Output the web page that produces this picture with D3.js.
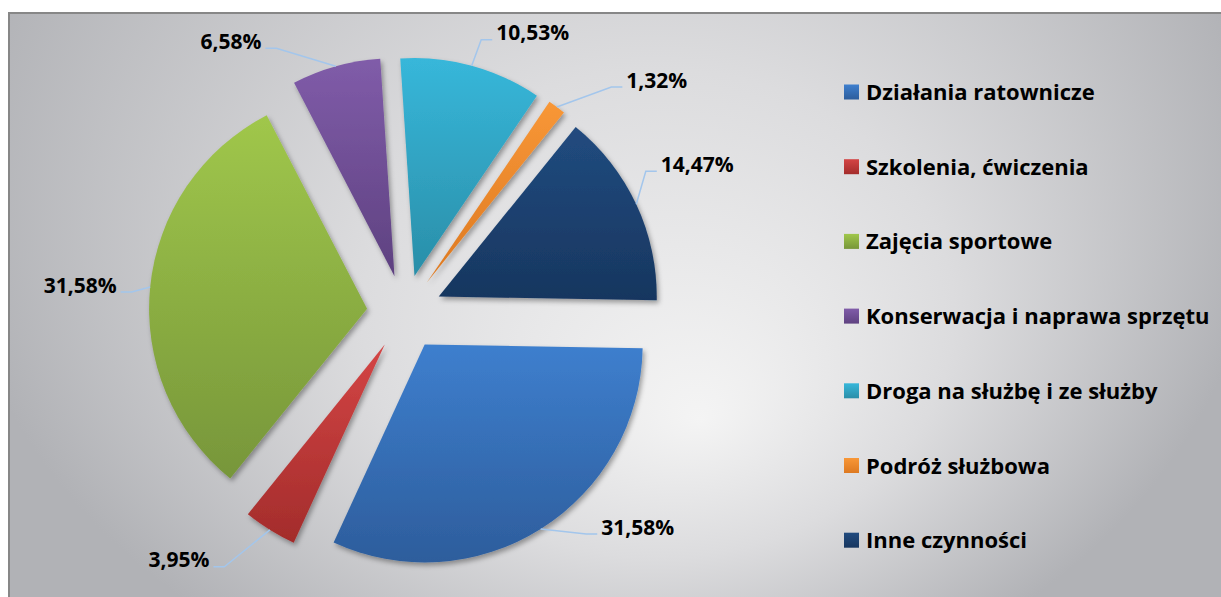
<!DOCTYPE html>
<html>
<head>
<meta charset="utf-8">
<script src="https://cdn.jsdelivr.net/npm/d3@7"></script>
<style>
  html, body { margin: 0; padding: 0; background: #ffffff; }
  svg { display: block; }
  text { font-family: "Open Sans", "Lato", sans-serif; font-weight: 700; fill: #000; }
</style>
</head>
<body>
<svg id="chart" width="1221" height="597"></svg>
<script>
// Wypadki wg rodzaju czynności (udział procentowy)
const categories = [
  "Działania ratownicze",
  "Szkolenia, ćwiczenia",
  "Zajęcia sportowe",
  "Konserwacja i naprawa sprzętu",
  "Droga na służbę i ze służby",
  "Podróż służbowa",
  "Inne czynności"
];
const shares = [31.58, 3.95, 31.58, 6.58, 10.53, 1.32, 14.47];
const shareLabels = shares.map(v => v.toFixed(2).replace(".", ",") + "%");

// slice gradient colours (top -> bottom)
const colorsTop    = ["#3e7fce", "#d44545", "#a0c74b", "#805ca9", "#37b7da", "#f89737", "#214b7f"];
const colorsBottom = ["#2d5d9c", "#a32c2b", "#77963a", "#5e4180", "#2a8ea8", "#dd7921", "#17365f"];

// label placement relative to the outer-arc point of each slice
const labelNudge = [[97, -2], [-91, 30], [-70, -2], [-105, -25], [61, -33], [100, -27], [61, -40]];

const W = 1221, H = 597;
const svg = d3.select("#chart");
const defs = svg.append("defs");

// chart area background: off-centre radial gradient
const bg = defs.append("radialGradient")
  .attr("id", "bg")
  .attr("gradientUnits", "userSpaceOnUse")
  .attr("cx", 607).attr("cy", 184).attr("r", 657)
  .attr("fx", 700).attr("fy", 469)
  .attr("gradientTransform", "translate(607,184) scale(1,0.8265) translate(-607,-184)");
bg.append("stop").attr("offset", 0).attr("stop-color", "#f4f4f4");
bg.append("stop").attr("offset", 0.45).attr("stop-color", "#dcdcde");
bg.append("stop").attr("offset", 1).attr("stop-color", "#b1b2b6");

// soft outer shadow for the slices
const sh = defs.append("filter").attr("id", "shadow")
  .attr("x", "-20%").attr("y", "-20%").attr("width", "140%").attr("height", "140%");
sh.append("feDropShadow")
  .attr("dx", 2).attr("dy", 3).attr("stdDeviation", 2.5)
  .attr("flood-color", "#000").attr("flood-opacity", 0.35);

categories.forEach((c, i) => {
  const g = defs.append("linearGradient").attr("id", "sl" + i)
    .attr("x1", 0).attr("y1", 0).attr("x2", 0).attr("y2", 1);
  g.append("stop").attr("offset", 0).attr("stop-color", colorsTop[i]);
  g.append("stop").attr("offset", 1).attr("stop-color", colorsBottom[i]);
});

svg.append("rect")
  .attr("x", 9).attr("y", 13).attr("width", W + 40).attr("height", H + 40)
  .attr("fill", "url(#bg)")
  .attr("stroke", "#878787").attr("stroke-width", 2);

// pie geometry
const cx = 404.6, cy = 312.5, R = 218, explode = 37.7;
const start = 91 * Math.PI / 180;
const pie = d3.pie().sort(null).value(d => d).startAngle(start).endAngle(start + 2 * Math.PI);
const arc = d3.arc().innerRadius(0).outerRadius(R);
const arcs = pie(shares);

const dirOf = a => [Math.sin(a), -Math.cos(a)];

const pieG = svg.append("g").attr("transform", `translate(${cx},${cy})`);

pieG.selectAll("path.slice")
  .data(arcs)
  .join("path")
  .attr("class", "slice")
  .attr("transform", d => {
    const m = (d.startAngle + d.endAngle) / 2;
    const [ux, uy] = dirOf(m);
    return `translate(${ux * explode},${uy * explode})`;
  })
  .attr("d", arc)
  .attr("fill", (d, i) => `url(#sl${i})`)
  .attr("filter", "url(#shadow)");

// data labels with leader lines
const fontLabel = 21;
const labelG = pieG.append("g");
arcs.forEach((d, i) => {
  const m = (d.startAngle + d.endAngle) / 2;
  const [ux, uy] = dirOf(m);
  const ax = ux * (explode + R), ay = uy * (explode + R);
  const lx = ax + labelNudge[i][0], ly = ay + labelNudge[i][1];
  const t = labelG.append("text")
    .attr("x", lx).attr("y", ly + fontLabel * 0.36)
    .attr("text-anchor", "middle")
    .style("font-size", fontLabel + "px")
    .text(shareLabels[i]);
  const half = t.node().getComputedTextLength() / 2;
  const side = lx > ax ? -1 : 1;
  const ex = lx + side * (half + 4), ey = ly + 7;
  const bx = ex + side * 11;
  labelG.insert("path", "text")
    .attr("d", d3.line()([[ax, ay], [bx, ey], [ex, ey]]))
    .attr("fill", "none")
    .attr("stroke", "#a3c6ec")
    .attr("stroke-width", 1.5);
});

// legend
const legend = svg.append("g").attr("transform", "translate(844,92)");
const rowStep = 74.7;
const item = legend.selectAll("g.item")
  .data(categories)
  .join("g")
  .attr("class", "item")
  .attr("transform", (d, i) => `translate(0,${i * rowStep})`);
item.append("rect")
  .attr("x", 0).attr("y", -7.5).attr("width", 15).attr("height", 15)
  .attr("fill", (d, i) => `url(#sl${i})`);
item.append("text")
  .attr("x", 22).attr("y", 8)
  .style("font-size", "22px")
  .text(d => d);
</script>
</body>
</html>
